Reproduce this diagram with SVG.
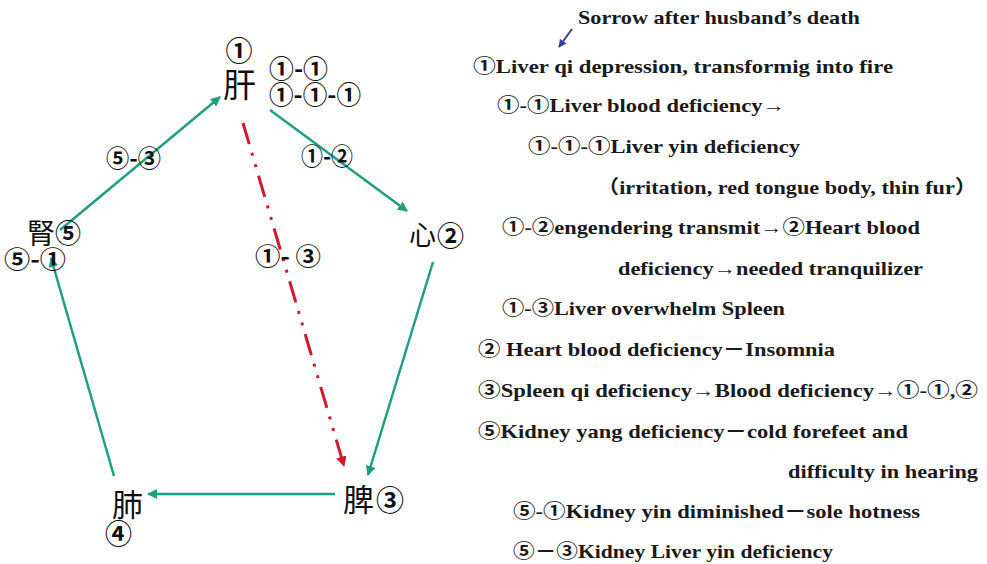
<svg xmlns="http://www.w3.org/2000/svg" width="987" height="564" viewBox="0 0 987 564">
<style>
.bg{fill:#ffffff}
.lbl{font-family:"Noto Sans CJK SC","Liberation Sans",sans-serif;font-weight:bold;fill:#111}
.cjk{font-family:"Noto Sans CJK SC","Noto Sans CJK JP",sans-serif;fill:#111}
.txt{font-family:"Liberation Serif","Noto Serif","Noto Sans CJK SC",serif;font-weight:bold;font-size:19px;fill:#1a1a1a}
.g{stroke:#1f9e82;stroke-width:2.5;fill:none;marker-end:url(#ga)}
.r{stroke:#d0182a;stroke-width:3;fill:none;stroke-dasharray:22 9 3 9 3 9;marker-end:url(#ra)}
</style>
<defs>
<marker id="ga" viewBox="0 0 10 10" refX="9" refY="5" markerWidth="4" markerHeight="4" orient="auto" markerUnits="strokeWidth">
<path d="M0,0 L10,5 L0,10 z" fill="#1f9e82"/>
</marker>
<marker id="ra" viewBox="0 0 10 10" refX="9" refY="5" markerWidth="3.5" markerHeight="3.5" orient="auto" markerUnits="strokeWidth">
<path d="M0,0 L10,5 L0,10 z" fill="#d0182a"/>
</marker>
<marker id="ba" viewBox="0 0 10 10" refX="9" refY="5" markerWidth="4" markerHeight="4" orient="auto" markerUnits="strokeWidth">
<path d="M0,0 L10,5 L0,10 z" fill="#3b3b9a"/>
</marker>
</defs>
<rect class="bg" x="0" y="0" width="987" height="564"/>

<g id="connectors">
<line class="g" x1="270" y1="110" x2="407" y2="211"/>
<line class="g" x1="433" y1="262" x2="368" y2="475"/>
<line class="g" x1="335" y1="494" x2="148" y2="494"/>
<line class="g" x1="114" y1="476" x2="51" y2="258"/>
<line class="g" x1="60" y1="230" x2="220" y2="97"/>
<line class="r" x1="243" y1="123" x2="344" y2="466"/>
<line x1="572" y1="29" x2="559" y2="47" stroke="#3b3b9a" stroke-width="2" marker-end="url(#ba)"/>
</g>

<g id="node-liver">
<text class="lbl" x="239" y="61" font-size="27" text-anchor="middle">①</text>
<text class="cjk" x="223" y="97" font-size="33">肝</text>
<text class="lbl" x="269" y="78" font-size="25" textLength="59" lengthAdjust="spacingAndGlyphs">①-①</text>
<text class="lbl" x="269" y="104" font-size="25" textLength="92" lengthAdjust="spacingAndGlyphs">①-①-①</text>
</g>
<g id="node-heart">
<text class="cjk" x="409" y="245" font-size="27">心</text>
<text class="lbl" x="437" y="246" font-size="27">②</text>
</g>
<g id="node-spleen">
<text class="cjk" x="343" y="511" font-size="31">脾</text>
<text class="lbl" x="376" y="511" font-size="28">③</text>
</g>
<g id="node-lung">
<text class="cjk" x="112" y="516" font-size="31">肺</text>
<text class="lbl" x="105" y="544" font-size="27">④</text>
</g>
<g id="node-kidney">
<text class="cjk" x="27" y="244" font-size="28">腎</text>
<text class="lbl" x="55" y="243" font-size="26">⑤</text>
<text class="lbl" x="4" y="268" font-size="24" textLength="62" lengthAdjust="spacingAndGlyphs">⑤-①</text>
</g>
<g id="edge-labels">
<text class="lbl" x="106" y="167" font-size="24" textLength="55" lengthAdjust="spacingAndGlyphs">⑤-③</text>
<text class="lbl" x="301" y="165" font-size="24" textLength="52" lengthAdjust="spacingAndGlyphs">①-②</text>
<text class="lbl" x="255" y="265" font-size="24" textLength="66" lengthAdjust="spacingAndGlyphs">①- ③</text>
</g>

<g id="notes">
<text class="txt" x="578" y="24" textLength="282" lengthAdjust="spacingAndGlyphs">Sorrow after husband’s death</text>
<text class="txt" x="473" y="73" textLength="420" lengthAdjust="spacingAndGlyphs">①Liver qi depression, transformig into fire</text>
<text class="txt" x="497" y="112" textLength="288" lengthAdjust="spacingAndGlyphs">①-①Liver blood deficiency→</text>
<text class="txt" x="528" y="153" textLength="272" lengthAdjust="spacingAndGlyphs">①-①-①Liver yin deficiency</text>
<text class="txt" x="597" y="194" textLength="380" lengthAdjust="spacingAndGlyphs">（irritation, red tongue body, thin fur）</text>
<text class="txt" x="502" y="234" textLength="418" lengthAdjust="spacingAndGlyphs">①-②engendering transmit→②Heart blood</text>
<text class="txt" x="618" y="275" textLength="305" lengthAdjust="spacingAndGlyphs">deficiency→needed tranquilizer</text>
<text class="txt" x="502" y="315" textLength="283" lengthAdjust="spacingAndGlyphs">①-③Liver overwhelm Spleen</text>
<text class="txt" x="478" y="356" textLength="357" lengthAdjust="spacingAndGlyphs">② Heart blood deficiency－Insomnia</text>
<text class="txt" x="478" y="397" textLength="500" lengthAdjust="spacingAndGlyphs">③Spleen qi deficiency→Blood deficiency→①-①,②</text>
<text class="txt" x="478" y="438" textLength="430" lengthAdjust="spacingAndGlyphs">⑤Kidney yang deficiency－cold forefeet and</text>
<text class="txt" x="788" y="478" textLength="190" lengthAdjust="spacingAndGlyphs">difficulty in hearing</text>
<text class="txt" x="513" y="518" textLength="407" lengthAdjust="spacingAndGlyphs">⑤-①Kidney yin diminished－sole hotness</text>
<text class="txt" x="513" y="558" textLength="320" lengthAdjust="spacingAndGlyphs">⑤－③Kidney Liver yin deficiency</text>
</g>
</svg>
